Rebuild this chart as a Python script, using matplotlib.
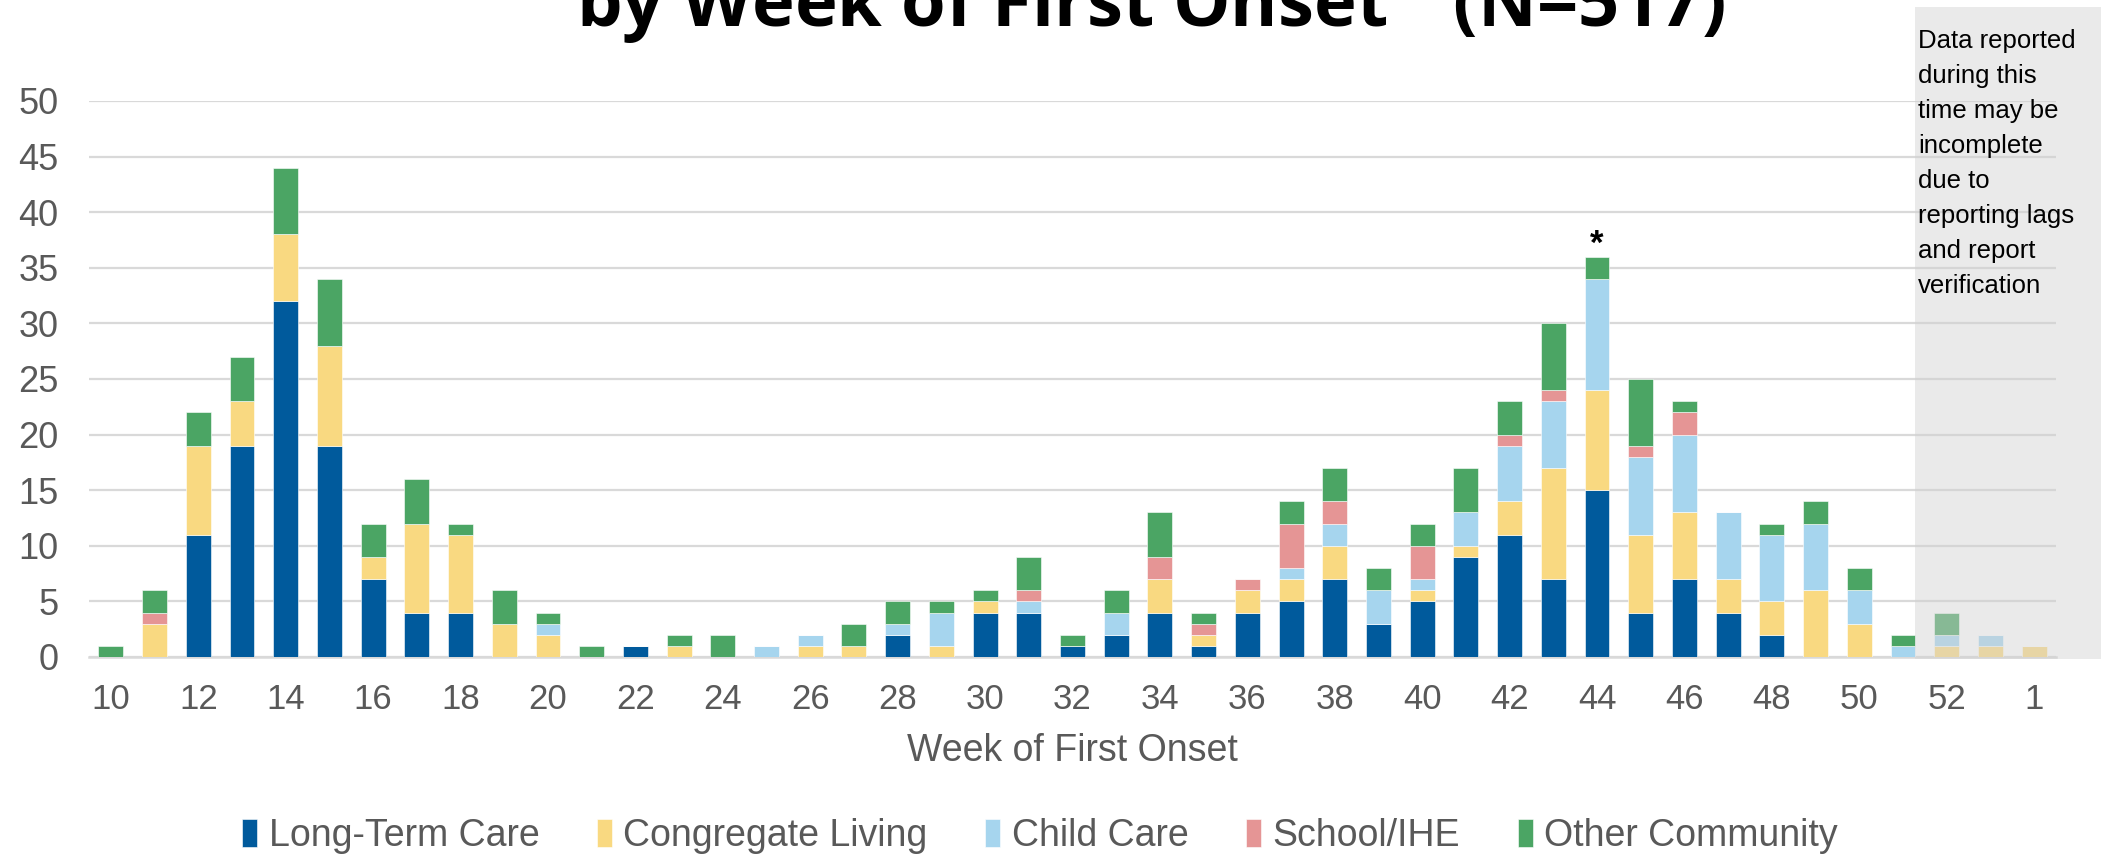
import matplotlib
matplotlib.use("Agg")
import matplotlib.pyplot as plt
from matplotlib.patches import Rectangle
import numpy as np

# weeks of first onset (10..53, then week 1 of next year)
weeks = list(range(10, 54)) + [1]

# counts per setting
ltc = [0, 0, 11, 19, 32, 19, 7, 4, 4, 0, 0,
       0, 1, 0, 0, 0, 0, 0, 2, 0, 4, 4, 1,
       2, 4, 1, 4, 5, 7, 3, 5, 9, 11, 7, 15, 4,
       7, 4, 2, 0, 0, 0, 0, 0, 0]
congregate = [0, 3, 8, 4, 6, 9, 2, 8, 7, 3, 2,
              0, 0, 1, 0, 0, 1, 1, 0, 1, 1, 0, 0,
              0, 3, 1, 2, 2, 3, 0, 1, 1, 3, 10, 9, 7,
              6, 3, 3, 6, 3, 0, 1, 1, 1]
child_care = [0, 0, 0, 0, 0, 0, 0, 0, 0, 0, 1,
              0, 0, 0, 0, 1, 1, 0, 1, 3, 0, 1, 0,
              2, 0, 0, 0, 1, 2, 3, 1, 3, 5, 6, 10, 7,
              7, 6, 6, 6, 3, 1, 1, 1, 0]
school = [0, 1, 0, 0, 0, 0, 0, 0, 0, 0, 0,
          0, 0, 0, 0, 0, 0, 0, 0, 0, 0, 1, 0,
          0, 2, 1, 1, 4, 2, 0, 3, 0, 1, 1, 0, 1,
          2, 0, 0, 0, 0, 0, 0, 0, 0]
other = [1, 2, 3, 4, 6, 6, 3, 4, 1, 3, 1,
         1, 0, 1, 2, 0, 0, 2, 2, 1, 1, 3, 1,
         2, 4, 1, 0, 2, 3, 2, 2, 4, 3, 6, 2, 6,
         1, 0, 1, 2, 2, 1, 2, 0, 0]

series = [("Long-Term Care", ltc, "#005A9C"),
          ("Congregate Living", congregate, "#F9D981"),
          ("Child Care", child_care, "#A6D5EE"),
          ("School/IHE", school, "#E59595"),
          ("Other Community", other, "#4BA564")]

W, H = 2114, 855
fig = plt.figure(figsize=(W / 100, H / 100), dpi=100)
ax = fig.add_axes([89 / W, 1 - 657 / H, (2056 - 89) / W, (657 - 101) / H])

x = np.arange(len(weeks))
bottom = np.zeros(len(weeks))
for name, vals, col in series:
    ax.bar(x, vals, 0.57, bottom=bottom, color=col, label=name,
           edgecolor="white", linewidth=0.4, zorder=3)
    bottom += np.array(vals)

ax.set_xlim(-0.5, len(weeks) - 0.5)
ax.set_ylim(0, 50)
ax.set_yticks(range(0, 51, 5))
ax.set_xticks(x)
ax.set_xticklabels([str(w) if (w % 2 == 0 or w == 1) else "" for w in weeks])
ax.grid(axis="y", color="#D9D9D9", linewidth=1.6, zorder=0)
ax.set_axisbelow(True)
for s in ["top", "right", "left"]:
    ax.spines[s].set_visible(False)
ax.spines["bottom"].set_color("#D9D9D9")
ax.spines["bottom"].set_linewidth(1.8)
ax.tick_params(axis="both", length=0, labelcolor="#595959",
               labelfontfamily="Liberation Sans")
ax.tick_params(axis="y", pad=22, labelsize=26)
ax.tick_params(axis="x", pad=19, labelsize=25)
ax.set_xlabel("Week of First Onset", fontsize=27, color="#595959",
              family="Liberation Sans", labelpad=12)

# asterisk over week 44
i44 = weeks.index(44)
ax.annotate("*", (i44, bottom[i44]), xytext=(0, -3), textcoords="offset points",
            ha="center", va="bottom", fontsize=25, fontweight="bold",
            family="Liberation Sans", color="black")

# grey shading over the incomplete weeks
ax.add_patch(Rectangle((1915 / W, 1 - 659 / H), 186 / W, 652 / H,
                       transform=fig.transFigure, clip_on=False,
                       facecolor="#D2D2D2", alpha=0.45, edgecolor="none", zorder=6))
fig.text(1918 / W, 1 - 29 / H,
         "Data reported\nduring this\ntime may be\nincomplete\ndue to\nreporting lags\nand report\nverification",
         ha="left", va="top", fontsize=18.5, family="Liberation Sans",
         color="black", linespacing=1.58)

# title, cut off at the top of the image (asterisk is a raised superscript)
fig.text(0.5 * (580 + 1720) / W, 1 - 27 / H, r"by Week of First Onset$^{*}$  (N=517)",
         ha="center", va="baseline", fontsize=52, fontweight="bold",
         family="Open Sans", color="black")

fig.legend(loc="center", bbox_to_anchor=(1040 / W, 1 - 836 / H), ncol=5,
           frameon=False, prop={"family": "Liberation Sans", "size": 27},
           labelcolor="#595959", handlelength=0.4, handleheight=0.75,
           handletextpad=0.3, columnspacing=1.54)

fig.savefig("out.png", dpi=100)
